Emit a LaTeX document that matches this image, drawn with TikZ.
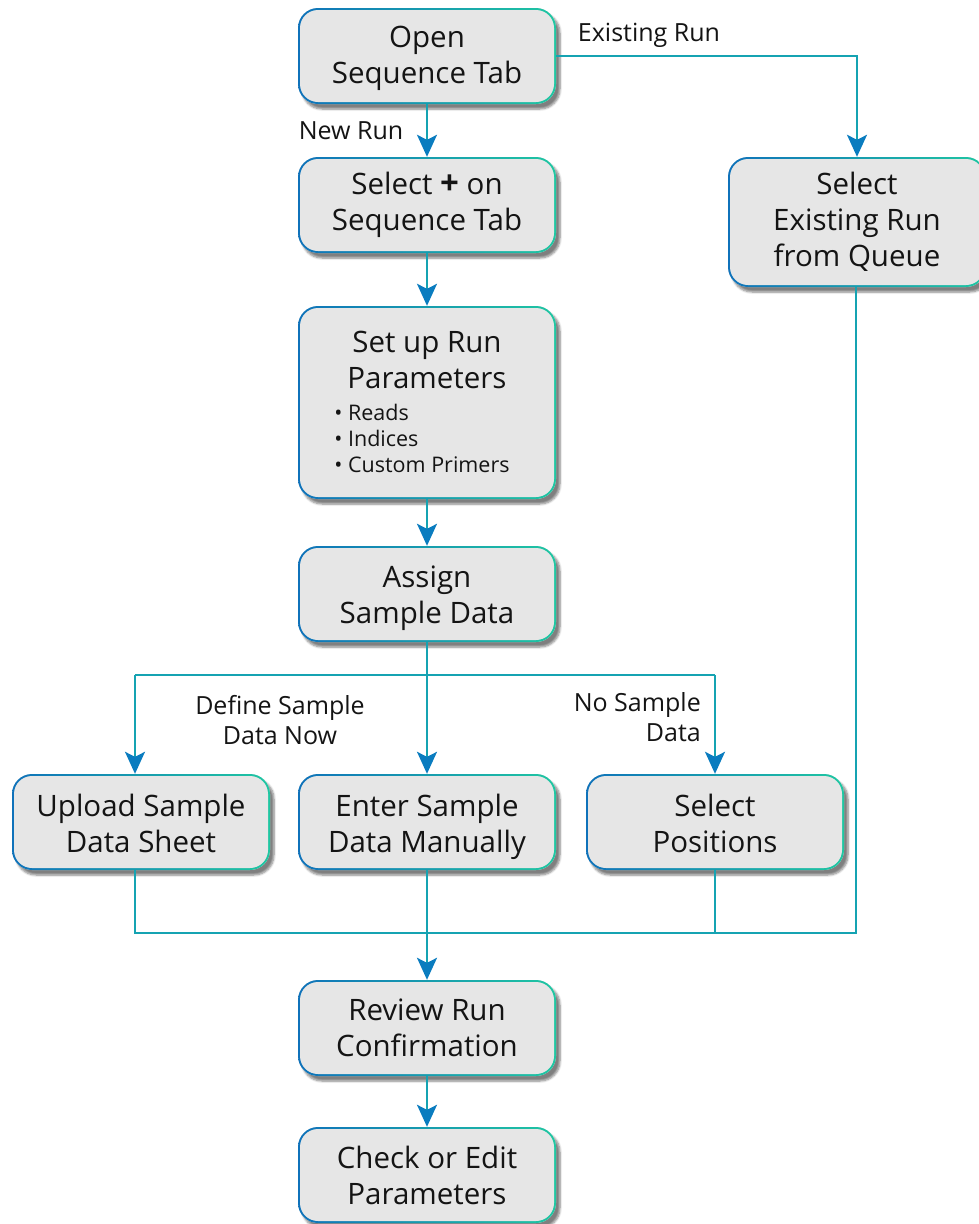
\documentclass[tikz,border=0pt]{standalone}
\usepackage{fontspec}
\setmainfont{Open Sans}
\usetikzlibrary{arrows.meta,shadows.blur}
\definecolor{cteal}{HTML}{1FC7A2}
\definecolor{cblue}{HTML}{0F72BA}
\definecolor{cline}{HTML}{15A3B2}
\definecolor{carrow}{HTML}{0A7CBF}
\definecolor{boxgray}{HTML}{E6E6E6}
\begin{document}
\begin{tikzpicture}[x=1pt,y=-1pt,
  flowbox/.style={rectangle, rounded corners=20pt, minimum width=258pt,
    minimum height=96pt, fill=boxgray, align=center, inner sep=0pt,
    font=\fontsize{29.5}{36}\selectfont, text=black!92,
    text height=55pt, text depth=0pt,
    blur shadow={shadow xshift=4pt, shadow yshift=-5pt, shadow blur steps=6, shadow opacity=50},
    path picture={
      \shade[left color=cblue, right color=cteal]
        (path picture bounding box.south west) rectangle (path picture bounding box.north east);
      \fill[boxgray, rounded corners=18pt]
        ([shift={(2pt,2pt)}]path picture bounding box.south west) rectangle
        ([shift={(-2pt,-2pt)}]path picture bounding box.north east);
    }},
  threeline/.style={minimum height=130pt, text height=89pt, text depth=0pt},
  conn/.style={draw=cline, line width=2pt},
  arr/.style={conn, -{Stealth[length=22pt,width=20pt,inset=5pt,color=carrow]}},
  lbl/.style={font=\fontsize{25}{30}\selectfont, align=center, text=black!92, inner sep=0pt}
]
\useasboundingbox (0,0) rectangle (979,1224);

\node[flowbox] (open) at (427,56) {Open\\Sequence Tab};
\node[flowbox, text height=51pt] (sel) at (427,205) {Select {\bfseries\fontsize{33}{36}\selectfont +} on\\Sequence Tab};
\node[flowbox, minimum height=193pt, text height=88.4pt, text depth=52pt] (setup) at (427,402.5)
  {Set up Run\\Parameters\\[-4pt]
  {\fontsize{21.5}{26}\selectfont\begin{tabular}[t]{@{}l@{}}• Reads\\• Indices\\• Custom Primers\end{tabular}}\hspace*{10pt}};
\node[flowbox, text height=59pt] (assign) at (427,594) {Assign\\Sample Data};
\node[flowbox, text height=60pt] (upload) at (141,822) {Upload Sample\\Data Sheet};
\node[flowbox, text height=60pt] (enter) at (427,822) {Enter Sample\\Data Manually};
\node[flowbox, text height=60pt] (pos) at (715,822) {Select\\Positions};
\node[flowbox, threeline] (exist) at (857,222) {Select\\Existing Run\\from Queue};
\node[flowbox, text height=57pt] (review) at (427,1028) {Review Run\\Confirmation};
\node[flowbox, text height=58pt] (check) at (427,1175) {Check or Edit\\Parameters};

\node[lbl] (lnew) at (351,131) {New Run};
\node[lbl] (lexist) at (649,35) {Existing Run};
\node[lbl] (ldefine) at (280,720) {Define Sample\\Data Now};
\node[lbl, align=right, anchor=east] (lnosample) at (701,717) {No Sample\\Data};

\draw[arr] (open) -- (sel);
\draw[arr] (open.east) -- (open.east -| exist.north) -- (exist.north);
\draw[arr] (sel) -- (setup);
\draw[arr] (setup) -- (assign);

\coordinate (split) at (427,675);
\coordinate (uptop) at ([xshift=-6pt]upload.north);
\coordinate (upbot) at ([xshift=-6pt]upload.south);
\draw[conn] (assign.south) -- (split);
\draw[conn] (uptop |- split) -- (pos.north |- split);
\draw[arr] (uptop |- split) -- (uptop);
\draw[arr] (split) -- (enter);
\draw[arr] (pos.north |- split) -- (pos.north);

\coordinate (merge) at (427,933);
\coordinate (exbot) at ([xshift=-1pt]exist.south);
\draw[conn] (upbot) -- (upbot |- merge) -- (exbot |- merge) -- (exbot);
\draw[conn] (enter.south) -- (merge);
\draw[conn] (pos.south) -- (pos.south |- merge);
\draw[arr] (merge) -- (review);
\draw[arr] (review) -- (check);
\end{tikzpicture}
\end{document}
